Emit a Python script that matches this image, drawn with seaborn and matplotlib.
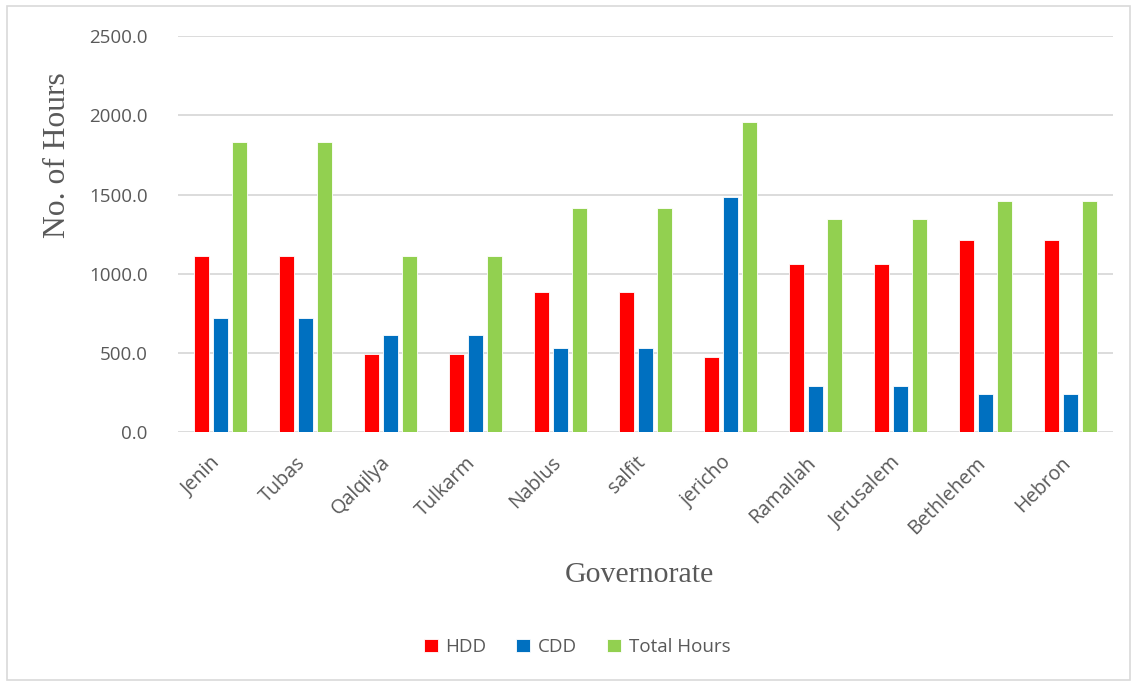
import matplotlib
matplotlib.use("Agg")
import matplotlib.pyplot as plt
import matplotlib.transforms as mtransforms
from matplotlib.patches import Rectangle
import seaborn as sns
import pandas as pd

# Heating / cooling degree hours per governorate
governorates = ["Jenin", "Tubas", "Qalqilya", "Tulkarm", "Nablus", "salfit",
                "jericho", "Ramallah", "Jerusalem", "Bethlehem", "Hebron"]
hdd = [1110, 1110, 494, 494, 882, 882, 473, 1059, 1059, 1216, 1216]
cdd = [718, 718, 612, 612, 530, 530, 1483, 288, 288, 240, 240]
total_hours = [1831, 1831, 1113, 1113, 1416, 1416, 1961, 1347, 1347, 1458, 1458]

series_names = ["HDD", "CDD", "Total Hours"]
series_colors = ["#FF0000", "#0070C0", "#92D050"]

rows = []
for name, vals in zip(series_names, [hdd, cdd, total_hours]):
    for g, v in zip(governorates, vals):
        rows.append({"Governorate": g, "Series": name, "Hours": v})
df = pd.DataFrame(rows)

sns.set_theme(style="white")
plt.rcParams["font.family"] = ["Open Sans", "DejaVu Sans"]

text_grey = "#595959"
grid_grey = "#D9D9D9"

fig = plt.figure(figsize=(11.37, 6.84), dpi=100)
ax = fig.add_axes([0.1566, 0.3684, 0.979 - 0.1566, 0.947 - 0.3684])

sns.barplot(data=df, x="Governorate", y="Hours", hue="Series",
            order=governorates, hue_order=series_names,
            palette=series_colors, width=0.67, gap=0.21,
            edgecolor="white", linewidth=0.6, saturation=1,
            errorbar=None, ax=ax, zorder=3)

ax.set_ylim(0, 2500)
ax.set_xlim(-0.5, len(governorates) - 0.5)
ax.set_yticks([0, 500, 1000, 1500, 2000, 2500])
ax.set_yticklabels([f"{t:.1f}" for t in [0, 500, 1000, 1500, 2000, 2500]],
                   fontsize=13.5, color=text_grey)
ax.yaxis.grid(True, color=grid_grey, linewidth=1.3, zorder=0)
ax.set_axisbelow(True)
for s in ax.spines.values():
    s.set_visible(False)
ax.tick_params(axis="y", length=0, pad=22)
ax.tick_params(axis="x", length=0, pad=15)

# rotated category labels, nudged left so their ends sit under the groups
shift = mtransforms.ScaledTranslation(-10 / 100, 0, fig.dpi_scale_trans)
for lbl in ax.get_xticklabels():
    lbl.set_rotation(45)
    lbl.set_ha("right")
    lbl.set_rotation_mode("anchor")
    lbl.set_fontsize(14.2)
    lbl.set_color(text_grey)
    lbl.set_transform(lbl.get_transform() + shift)

ax.set_ylabel("No. of Hours", family=["Liberation Serif"], fontsize=22.7,
              color=text_grey, labelpad=8)
ax.yaxis.set_label_coords(-0.129, 0.70)
ax.set_xlabel("Governorate", family=["Liberation Serif"], fontsize=21.5,
              color=text_grey)
ax.xaxis.set_label_coords((639 - 178) / 935, -(575 - 432) / 396)
ax.xaxis.label.set_va("center")
ax.yaxis.label.set_va("center")

handles, labels = ax.get_legend_handles_labels()
ax.legend(handles, labels, loc="center", bbox_to_anchor=(577 / 1137, 1 - 647 / 684),
          bbox_transform=fig.transFigure, ncol=3, frameon=False,
          fontsize=13.5, handlelength=0.75, handleheight=0.75,
          handletextpad=0.4, columnspacing=1.6, labelcolor=text_grey)

# light chart-area border
fig.patches.append(Rectangle((7 / 1137, 4 / 684), 1123 / 1137, 674 / 684,
                             transform=fig.transFigure, fill=False,
                             edgecolor=grid_grey, linewidth=1.2))

fig.savefig("out.png", dpi=100)
